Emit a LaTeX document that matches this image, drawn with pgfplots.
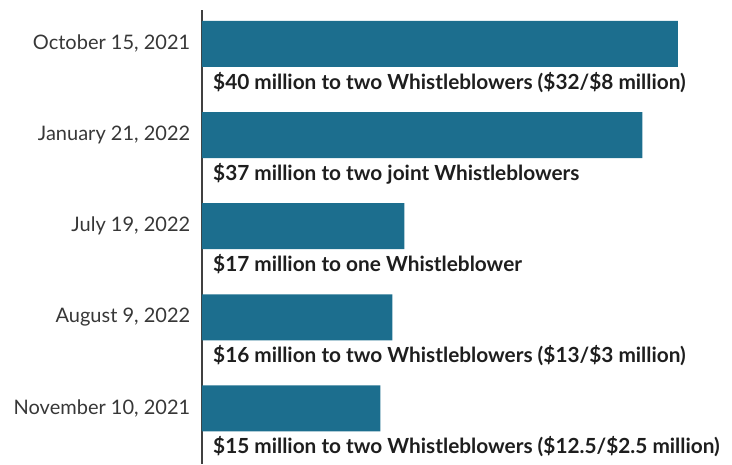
\documentclass[border=0pt]{standalone}
\usepackage{pgfplots}
\pgfplotsset{compat=1.18}
\usepackage{fontspec}
\setmainfont{Lato}
\definecolor{barblue}{RGB}{28,110,142}
\definecolor{txt}{RGB}{30,30,30}
\definecolor{datetxt}{RGB}{55,55,55}

\pgfplotstableread{
i v
0 40
1 37
2 17
3 16
4 15
}\awards

\begin{document}
\begin{tikzpicture}
\path[use as bounding box] (0,0) rectangle (732pt,464pt);
\begin{axis}[
    at={(202pt,0pt)}, anchor=south west,
    scale only axis, width=476pt, height=454pt,
    xbar, xmin=0, xmax=40,
    ymin=-0.373, ymax=4.61, y dir=reverse,
    axis x line=none, axis y line*=left,
    axis line style={-, draw=black!75, line width=1.2pt},
    ytick={0,...,4},
    yticklabels={{October 15, 2021},{January 21, 2022},{July 19, 2022},{August 9, 2022},{November 10, 2021}},
    ytick style={draw=none},
    yticklabel style={font=\fontsize{20}{24}\selectfont, text=datetxt, xshift=-4pt},
    bar width=0.505, clip=false,
]
\addplot[fill=barblue, draw=none] table[x=v, y=i] {\awards};
\tikzset{lab/.style={anchor=west, xshift=11pt, inner sep=0pt, text=txt,
    font=\fontsize{20.8}{24}\selectfont\bfseries}}
\node[lab] at (axis cs:0,0.42) {\$40 million to two Whistleblowers (\$32/\$8 million)};
\node[lab] at (axis cs:0,1.42) {\$37 million to two joint Whistleblowers};
\node[lab] at (axis cs:0,2.42) {\$17 million to one Whistleblower};
\node[lab] at (axis cs:0,3.42) {\$16 million to two Whistleblowers (\$13/\$3 million)};
\node[lab] at (axis cs:0,4.42) {\$15 million to two Whistleblowers (\$12.5/\$2.5 million)};
\end{axis}
\end{tikzpicture}
\end{document}
